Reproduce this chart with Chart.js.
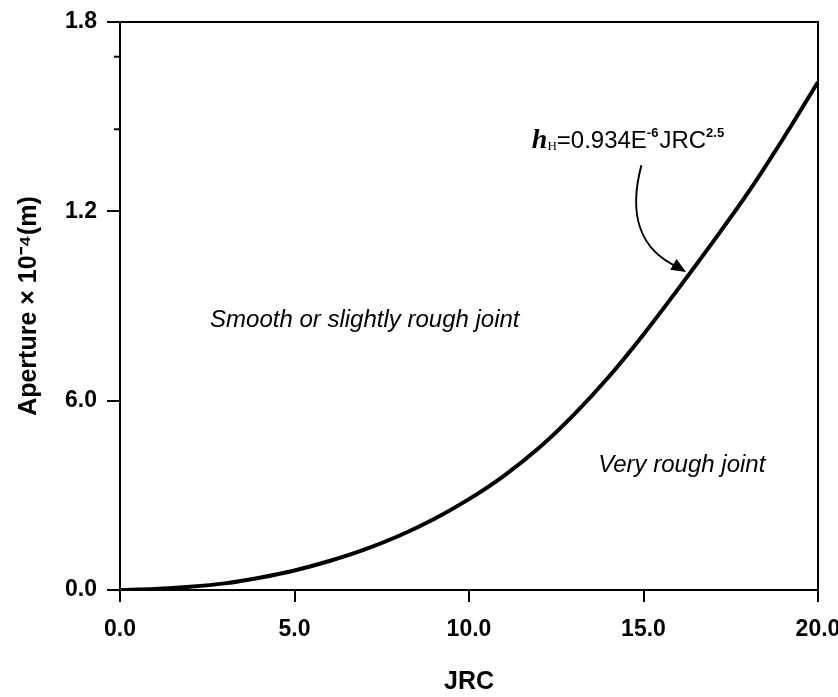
<!DOCTYPE html>
<html>
<head>
<meta charset="utf-8">
<script src="https://cdn.jsdelivr.net/npm/chart.js@4"></script>
<style>
  html, body { margin: 0; padding: 0; background: #fff; }
  #wrap { width: 838px; height: 697px; }
</style>
</head>
<body>
<div id="wrap"><canvas id="grafico"></canvas></div>
<script>
// Dados
const jrc = [0, 1, 2, 3, 4, 5, 6, 7, 8, 9, 10, 11, 12, 13, 14, 15, 16, 17, 18, 19, 20];
const aperture = [0, 0.03, 0.1, 0.21, 0.39, 0.62, 0.92, 1.28, 1.72, 2.25, 2.88, 3.62, 4.5, 5.55, 6.75, 8.1, 9.55, 11.05, 12.6, 14.3, 16.1];
const xTickLabels = ["0.0", "5.0", "10.0", "15.0", "20.0"];
const yTickLabels = ["0.0", "6.0", "1.2", "1.8"];
const yMinorTicks = [16.9, 14.6];

const narrow = '"Liberation Sans Narrow", "Liberation Sans", Arial, sans-serif';

// Anotações (coordenadas no espaço dos dados)
const notes = {
  smooth: { x: 2.58, y: 8.55, text: "Smooth or slightly rough joint" },
  rough: { x: 13.7, y: 3.96, text: "Very rough joint" },
  equation: { x: 11.8, y: 14.0 },
  arrow: [[14.94, 13.46], [14.56, 11.88], [14.9, 10.77], [15.99, 10.23]],
  arrowTip: [16.22, 10.08]
};

const extras = {
  id: "extras",
  afterDraw(chart) {
    const { ctx, chartArea: a, scales } = chart;
    const px = v => scales.x.getPixelForValue(v);
    const py = v => scales.y.getPixelForValue(v);
    ctx.save();
    ctx.strokeStyle = "#000";
    ctx.fillStyle = "#000";

    // moldura superior e direita
    ctx.lineWidth = 2;
    ctx.beginPath();
    ctx.moveTo(a.left, a.top);
    ctx.lineTo(a.right, a.top);
    ctx.lineTo(a.right, a.bottom);
    ctx.stroke();

    // ticks menores
    yMinorTicks.forEach(v => {
      ctx.beginPath();
      ctx.moveTo(a.left - 6, py(v));
      ctx.lineTo(a.left, py(v));
      ctx.stroke();
    });

    // textos das regiões
    ctx.font = "italic 24px " + narrow;
    ctx.textBaseline = "middle";
    ctx.textAlign = "left";
    ctx.fillText(notes.smooth.text, px(notes.smooth.x), py(notes.smooth.y));
    ctx.fillText(notes.rough.text, px(notes.rough.x), py(notes.rough.y));

    // equação
    let ex = px(notes.equation.x);
    const ey = py(notes.equation.y);
    ctx.textBaseline = "alphabetic";
    ctx.font = "bold italic 28px 'Liberation Serif', serif";
    ctx.fillText("h", ex, ey);
    ex += ctx.measureText("h").width;
    ctx.font = "13px 'Liberation Serif', serif";
    ctx.fillText("H", ex, ey + 2);
    ex += ctx.measureText("H").width;
    const parts = [
      ["=0.934E", "24px", 0],
      ["-6", "bold 13px", -11],
      ["JRC", "24px", 0],
      ["2.5", "bold 13px", -11]
    ];
    parts.forEach(([t, f, dy]) => {
      ctx.font = f + " " + narrow;
      ctx.fillText(t, ex, ey + dy);
      ex += ctx.measureText(t).width + (dy ? 1 : 0);
    });

    // seta curva
    const p = notes.arrow.map(([x, y]) => [px(x), py(y)]);
    ctx.lineWidth = 2;
    ctx.beginPath();
    ctx.moveTo(p[0][0], p[0][1]);
    ctx.bezierCurveTo(p[1][0], p[1][1], p[2][0], p[2][1], p[3][0], p[3][1]);
    ctx.stroke();
    const tx = px(notes.arrowTip[0]), ty = py(notes.arrowTip[1]);
    const ang = Math.atan2(ty - p[3][1], tx - p[3][0]);
    const len = 16, w = 0.4;
    ctx.beginPath();
    ctx.moveTo(tx, ty);
    ctx.lineTo(tx - len * Math.cos(ang - w), ty - len * Math.sin(ang - w));
    ctx.lineTo(tx - len * Math.cos(ang + w), ty - len * Math.sin(ang + w));
    ctx.closePath();
    ctx.fill();
    ctx.restore();
  }
};

new Chart(document.getElementById("grafico"), {
  type: "line",
  data: {
    labels: jrc,
    datasets: [{
      data: jrc.map((x, i) => ({ x: x, y: aperture[i] })),
      borderColor: "#000",
      borderWidth: 4,
      pointRadius: 0,
      cubicInterpolationMode: "monotone",
      fill: false
    }]
  },
  options: {
    responsive: true,
    maintainAspectRatio: false,
    animation: false,
    layout: { padding: { top: 22, right: 20, left: 0, bottom: 0 } },
    plugins: { legend: { display: false }, tooltip: { enabled: false } },
    scales: {
      x: {
        type: "linear",
        min: 0,
        max: 20,
        afterFit: s => { s.height = 107; s.paddingLeft = 0; s.paddingRight = 0; },
        ticks: {
          stepSize: 5,
          color: "#000",
          padding: 14,
          font: { family: narrow, size: 23, weight: "bold" },
          callback: (v, i) => xTickLabels[i]
        },
        grid: { drawOnChartArea: false, drawTicks: true, tickLength: 12, color: "#000", lineWidth: 2 },
        border: { display: true, color: "#000", width: 2 },
        title: {
          display: true,
          text: "JRC",
          color: "#000",
          font: { family: narrow, size: 25, weight: "bold" },
          padding: { top: 0, bottom: 0 }
        }
      },
      y: {
        min: 0,
        max: 18,
        afterFit: s => { s.width = 120; s.paddingTop = 0; s.paddingBottom = 0; },
        ticks: {
          stepSize: 6,
          color: "#000",
          padding: 10,
          font: { family: narrow, size: 23, weight: "bold" },
          callback: (v, i) => yTickLabels[i]
        },
        grid: { drawOnChartArea: false, drawTicks: true, tickLength: 13, color: "#000", lineWidth: 2 },
        border: { display: true, color: "#000", width: 2 },
        title: {
          display: true,
          text: "Aperture × 10⁻⁴(m)",
          color: "#000",
          font: { family: narrow, size: 25, weight: "bold" },
          padding: { top: 14, bottom: 0 }
        }
      }
    }
  },
  plugins: [extras]
});
</script>
</body>
</html>
